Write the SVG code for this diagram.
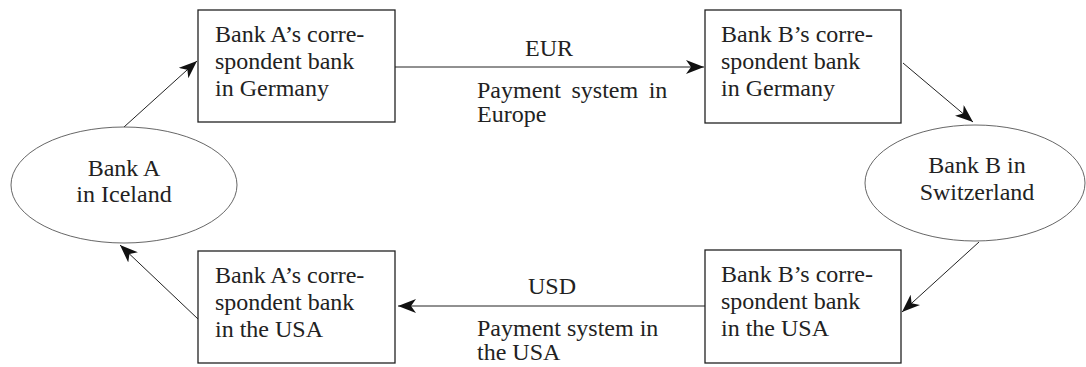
<svg xmlns="http://www.w3.org/2000/svg" width="1086" height="367" viewBox="0 0 1086 367">
<defs>
<style>
.box{fill:#fff;stroke:#222;stroke-width:1.3}
.ell{fill:#fff;stroke:#555;stroke-width:0.9}
.t{font-family:"Liberation Serif","Times New Roman",serif;font-size:24px;fill:#222}
.c{text-anchor:middle}
.edge{stroke:#222;stroke-width:1;fill:none;marker-end:url(#ah)}
</style>
<marker id="ah" markerUnits="userSpaceOnUse" markerWidth="20" markerHeight="14" refX="18" refY="7" orient="auto">
<path d="M0,0 L18,7 L0,14 L5,7 Z" fill="#111"/>
</marker>
</defs>
<rect width="1086" height="367" fill="#fff"/>
<g id="connectors">
<line class="edge" x1="124" y1="127" x2="197" y2="61"/>
<line class="edge" x1="395" y1="67" x2="704" y2="67"/>
<line class="edge" x1="903" y1="63" x2="973" y2="122"/>
<line class="edge" x1="979" y1="242" x2="902" y2="312"/>
<line class="edge" x1="705" y1="306" x2="398" y2="306"/>
<line class="edge" x1="198" y1="319" x2="120" y2="245"/>
</g>
<g id="labels">
<text class="t c" x="549" y="56">EUR</text>
<text class="t" x="477" y="98" word-spacing="4.5">Payment system in</text>
<text class="t" x="477" y="122">Europe</text>
<text class="t c" x="552" y="294">USD</text>
<text class="t" x="477" y="336">Payment system in</text>
<text class="t" x="477" y="360">the USA</text>
</g>
<g id="bankA">
<ellipse class="ell" cx="124" cy="185" rx="113" ry="58"/>
<text class="t c" x="124" y="176">Bank A</text>
<text class="t c" x="124" y="202">in Iceland</text>
</g>
<g id="bankB">
<ellipse class="ell" cx="975" cy="183" rx="110" ry="58"/>
<text class="t c" x="977" y="173">Bank B in</text>
<text class="t c" x="977" y="200">Switzerland</text>
</g>
<g id="corrA_DE">
<rect class="box" x="198" y="10" width="197" height="112"/>
<text class="t" x="215" y="42">Bank A’s corre-</text>
<text class="t" x="215" y="69">spondent bank</text>
<text class="t" x="215" y="96">in Germany</text>
</g>
<g id="corrB_DE">
<rect class="box" x="705" y="10" width="196" height="113"/>
<text class="t" x="721" y="42">Bank B’s corre-</text>
<text class="t" x="721" y="69">spondent bank</text>
<text class="t" x="721" y="96">in Germany</text>
</g>
<g id="corrA_US">
<rect class="box" x="198" y="251" width="197" height="112"/>
<text class="t" x="215" y="283">Bank A’s corre-</text>
<text class="t" x="215" y="310">spondent bank</text>
<text class="t" x="215" y="337">in the USA</text>
</g>
<g id="corrB_US">
<rect class="box" x="705" y="250" width="196" height="113"/>
<text class="t" x="721" y="282">Bank B’s corre-</text>
<text class="t" x="721" y="309">spondent bank</text>
<text class="t" x="721" y="336">in the USA</text>
</g>
</svg>
